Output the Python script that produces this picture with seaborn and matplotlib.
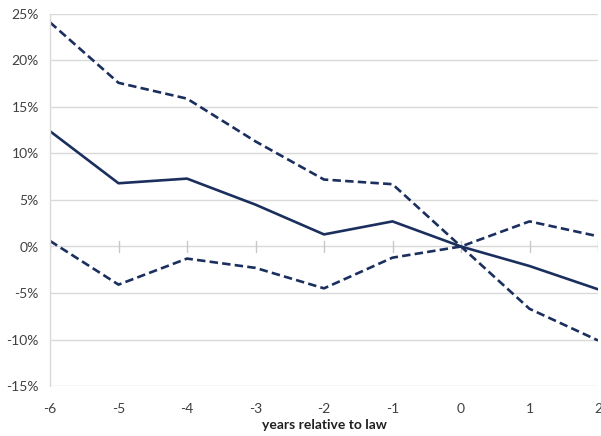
import matplotlib
matplotlib.use("Agg")
import matplotlib.pyplot as plt
import seaborn as sns
import pandas as pd
from matplotlib.ticker import FuncFormatter

years = [-6, -5, -4, -3, -2, -1, 0, 1, 2]
estimate = [12.4, 6.8, 7.3, 4.5, 1.3, 2.7, 0.0, -2.1, -4.6]
upper_ci = [24.1, 17.6, 15.9, 11.3, 7.2, 6.7, 0.0, -6.7, -10.1]
lower_ci = [0.6, -4.1, -1.3, -2.3, -4.5, -1.2, 0.0, 2.7, 1.1]
y_ticks = [-15, -10, -5, 0, 5, 10, 15, 20, 25]
x_label = "years relative to law"

sns.set_theme(style="white")
plt.rcParams['font.family'] = ['Lato', 'DejaVu Sans']
plt.rcParams['axes.unicode_minus'] = False

color = "#1B2F5E"
fig = plt.figure(figsize=(6.01, 4.36), dpi=100)
ax = fig.add_axes([50/601, 50/436, 548/601, 372/436])

df = pd.DataFrame({"year": years, "est": estimate, "up": upper_ci, "lo": lower_ci})
sns.lineplot(data=df, x="year", y="est", ax=ax, color=color, lw=1.9)
sns.lineplot(data=df, x="year", y="up", ax=ax, color=color, lw=1.9, dashes=False)
sns.lineplot(data=df, x="year", y="lo", ax=ax, color=color, lw=1.9, dashes=False)
for ln in ax.lines[1:]:
    ln.set_dashes((3.2, 1.6))

ax.set_xlim(-6, 2)
ax.set_ylim(-15, 25)
ax.set_yticks(y_ticks)
ax.set_xticks(years)
ax.set_xticklabels([str(y) for y in years])
ax.yaxis.set_major_formatter(FuncFormatter(lambda v, p: f"{int(v)}%"))
ax.grid(axis="y", color="#D9D9D9", lw=1)
ax.set_axisbelow(True)
for s in ["top", "right", "bottom"]:
    ax.spines[s].set_visible(False)
ax.spines["left"].set_color("#D9D9D9")
ax.spines["left"].set_linewidth(1)

# small tick marks on the zero line
for yr in years:
    ax.plot([yr, yr], [-0.6, 0.6], color="#C8C8C8", lw=1, zorder=1)

ax.tick_params(axis="both", length=0, labelsize=10, colors="#404040")
ax.tick_params(axis="x", pad=12)
ax.tick_params(axis="y", pad=8)
ax.set_xlabel(x_label, fontsize=10, fontweight="bold", color="#202020", labelpad=3)
ax.set_ylabel("")

fig.savefig("out.png", dpi=100)
